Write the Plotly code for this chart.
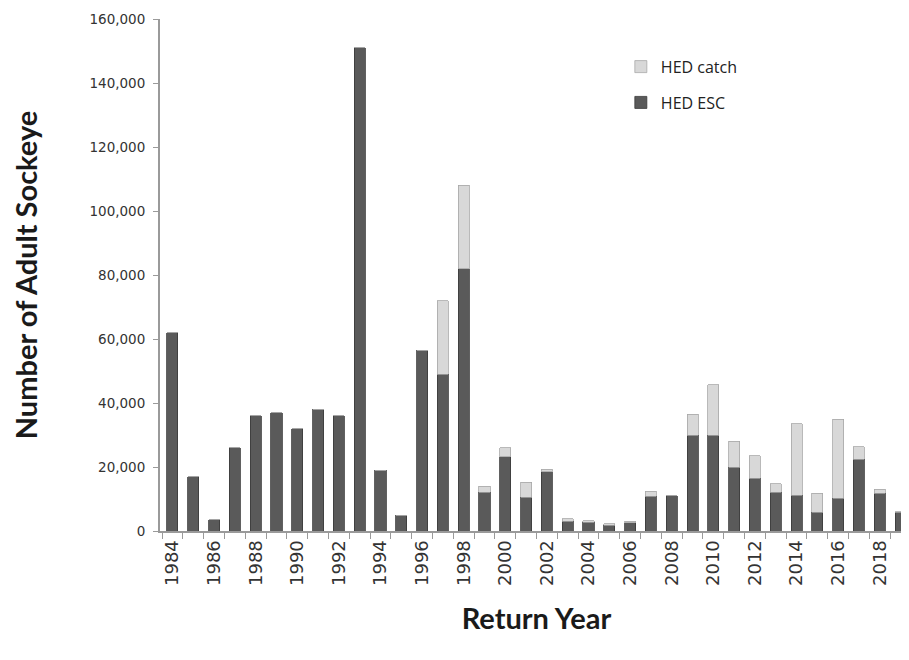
import plotly.graph_objects as go

years = list(range(1984, 2020))
esc = [62000, 17000, 3500, 26000, 36000, 37000, 32000, 38000, 36000, 151000,
       19000, 5000, 56500, 49000, 82000, 12100, 23200, 10600, 18500, 3000,
       2700, 1800, 2600, 10800, 11000, 30000, 30000, 20000, 16500, 12100,
       11100, 5900, 10300, 22500, 11800, 5800]
total = [62000, 17000, 3500, 26000, 36000, 37000, 32000, 38000, 36000, 151000,
         19000, 5000, 56500, 72000, 108000, 14000, 26000, 15300, 19300, 3800,
         3200, 2200, 3000, 12500, 11000, 36500, 45700, 28000, 23500, 14800,
         33500, 11800, 35000, 26300, 13000, 6000]
catch = [t - e for t, e in zip(total, esc)]
tick_years = list(range(1984, 2019, 2))

fig = go.Figure()
fig.add_trace(go.Bar(x=years, y=esc, name="HED ESC", legendgroup="esc", legendrank=2,
                     marker=dict(color="#5a5a5a", line=dict(color="#3a3a3a", width=0.8))))
fig.add_trace(go.Bar(x=years, y=catch, name="HED catch", legendgroup="catch", legendrank=1,
                     marker=dict(color="#d8d8d8", line=dict(color="#a8a8a8", width=0.8))))

fig.update_layout(
    width=909, height=660,
    barmode="stack", bargap=0.47,
    plot_bgcolor="white", paper_bgcolor="white",
    margin=dict(l=152, r=4, t=11, b=137),
    font=dict(family="DejaVu Sans, Verdana, sans-serif", color="#333333"),
    legend=dict(x=0.612, y=0.94, xanchor="left", yanchor="top",
                traceorder="grouped", tracegroupgap=12,
                font=dict(family="Open Sans, sans-serif", size=16, color="#222222"),
                bgcolor="rgba(0,0,0,0)"),
    showlegend=True,
)
fig.update_xaxes(
    range=[1983.4, 2019.6],
    tickvals=tick_years, ticktext=[str(y) for y in tick_years],
    tickangle=-90, ticks="", tickfont=dict(size=18, color="#333333"),
    showline=True, linecolor="#9a9a9a", linewidth=2,
    showgrid=False, zeroline=False,
    minor=dict(tick0=1983.5, dtick=1, ticks="outside", ticklen=6, tickcolor="#9a9a9a", showgrid=False),
    title=dict(text="<b>Return Year</b>", font=dict(family="Lato, Open Sans, sans-serif", size=29, color="#1a1a1a"), standoff=24),
)
fig.update_yaxes(
    range=[0, 160000], dtick=20000, tickformat=",d",
    ticks="outside", ticklen=5, tickcolor="#9a9a9a",
    tickfont=dict(size=13.5, color="#333333"), ticklabelstandoff=5,
    showline=True, linecolor="#9a9a9a", linewidth=2,
    showgrid=False, zeroline=False,
    title=dict(text="<b>Number of Adult Sockeye</b>", font=dict(family="Lato, Open Sans, sans-serif", size=29, color="#1a1a1a"), standoff=46),
)

fig.write_html("out.html")
